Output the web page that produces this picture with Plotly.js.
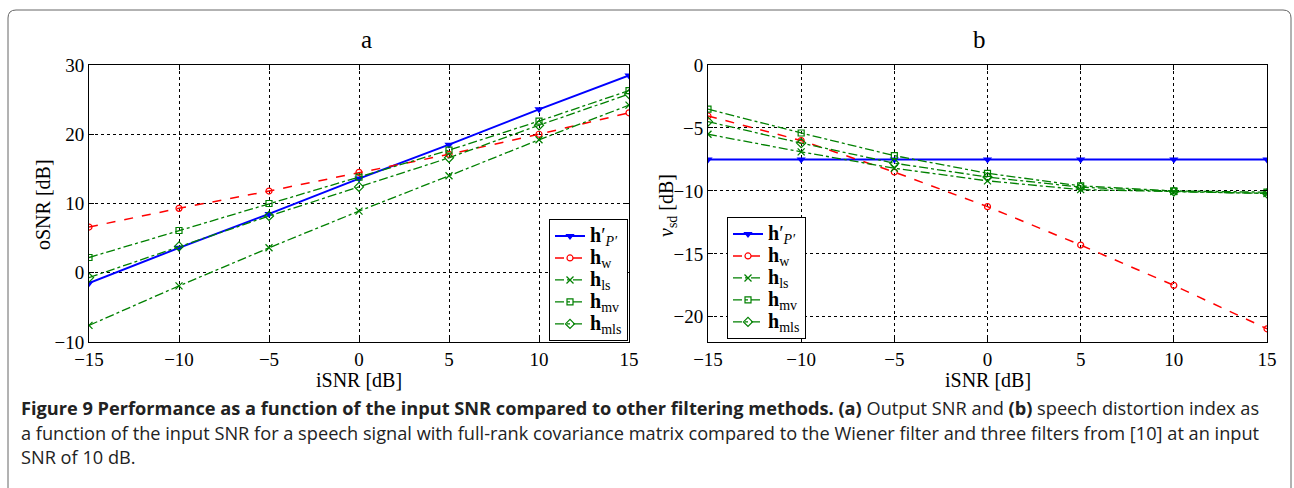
<!DOCTYPE html>
<html><head><meta charset="utf-8">
<script src="https://cdn.plot.ly/plotly-3.0.1.min.js"></script>
<style>html,body{margin:0;padding:0;background:#fff}#chart{width:1294px;height:488px}</style>
</head><body><div id="chart"></div>
<script>
const iSNR = [-15, -10, -5, 0, 5, 10, 15];
const names = ['<b>h</b>′<sub><i>P′</i></sub>', '<b>h</b><sub>w</sub>', '<b>h</b><sub>ls</sub>', '<b>h</b><sub>mv</sub>', '<b>h</b><sub>mls</sub>'];
// panel a: output SNR [dB]
const oSNR_hP  = [-1.5, 3.6, 8.5, 13.6, 18.5, 23.6, 28.5];
const oSNR_hw  = [6.6, 9.3, 11.8, 14.5, 17.1, 20.0, 23.1];
const oSNR_hls = [-7.6, -1.9, 3.6, 8.9, 14.0, 19.2, 24.2];
const oSNR_hmv = [2.2, 6.1, 10.0, 13.8, 17.7, 21.9, 26.3];
const oSNR_hmls= [-0.7, 3.8, 8.2, 12.4, 16.6, 21.3, 25.8];
// panel b: speech distortion index [dB]
const vsd_hP   = [-7.5, -7.5, -7.5, -7.5, -7.5, -7.5, -7.5];
const vsd_hw   = [-4.05, -6.0, -8.5, -11.25, -14.3, -17.5, -20.95];
const vsd_hls  = [-5.5, -6.9, -8.2, -9.2, -9.9, -10.05, -10.2];
const vsd_hmv  = [-3.5, -5.4, -7.2, -8.6, -9.6, -10.0, -10.1];
const vsd_hmls = [-4.5, -6.2, -7.8, -8.9, -9.7, -10.05, -10.2];
const captionLines = [
  '<b>Figure 9 Performance as a function of the input SNR compared to other filtering methods. (a)</b> Output SNR and <b>(b)</b> speech distortion index as',
  'a function of the input SNR for a speech signal with full-rank covariance matrix compared to the Wiener filter and three filters from [10] at an input',
  'SNR of 10 dB.'
];

const BLUE='#0000ff', RED='#ff0000', GREEN='#008000';
const styles = [
  {line:{color:BLUE,width:2,dash:'solid'}, marker:{symbol:'triangle-down',size:8,color:BLUE}},
  {line:{color:RED,width:1.5,dash:'dash'}, marker:{symbol:'circle-open',size:6,color:RED,line:{width:1.2}}},
  {line:{color:GREEN,width:1.3,dash:'dashdot'}, marker:{symbol:'x-thin-open',size:7,color:GREEN,line:{width:1.3,color:GREEN}}},
  {line:{color:GREEN,width:1.3,dash:'dashdot'}, marker:{symbol:'square-open',size:6,color:GREEN,line:{width:1.2}}},
  {line:{color:GREEN,width:1.3,dash:'dashdot'}, marker:{symbol:'diamond-open',size:7,color:GREEN,line:{width:1.2}}}
];
const big = s => '<span style="font-size:20px">' + s + '</span>';
const A = [oSNR_hP, oSNR_hw, oSNR_hls, oSNR_hmv, oSNR_hmls];
const B = [vsd_hP, vsd_hw, vsd_hls, vsd_hmv, vsd_hmls];
const traces = [];
A.forEach((y,i)=>traces.push(Object.assign({x:iSNR,y:y,name:big(names[i]),mode:'lines+markers',xaxis:'x',yaxis:'y',legend:'legend'},styles[i])));
B.forEach((y,i)=>traces.push(Object.assign({x:iSNR,y:y,name:big(names[i]),mode:'lines+markers',xaxis:'x2',yaxis:'y2',legend:'legend2'},styles[i])));

const SERIF = 'Liberation Serif, Times New Roman, serif';
const ax = (dom, range, dtick, anchor) => ({
  domain: dom, range: range, dtick: dtick, anchor: anchor,
  showgrid: true, gridcolor: '#000', griddash: 'dot', gridwidth: 1,
  zeroline: false, showline: true, linecolor: '#000', linewidth: 1, mirror: 'ticks',
  ticks: 'inside', ticklen: 5, tickcolor: '#000', ticklabelstandoff: 0,
  tickfont: {family: SERIF, size: 19, color: '#000'},
  title: {text: ''}
});
const yd = [1-342/488, 1-65/488];
const P = (px, py) => ({x: px/1294, y: 1-py/488, xref: 'paper', yref: 'paper', showarrow: false});
const TF = {family: SERIF, size: 20, color: '#000'};
const ann = [
  Object.assign(P(359, 40), {text: 'a', yanchor: 'middle', font: {family: SERIF, size: 25, color: '#000'}}),
  Object.assign(P(988, 40), {text: 'b', yanchor: 'middle', font: {family: SERIF, size: 25, color: '#000'}}),
  Object.assign(P(359, 380), {text: 'iSNR [dB]', xanchor: 'center', yanchor: 'middle', font: TF}),
  Object.assign(P(988, 380), {text: 'iSNR [dB]', xanchor: 'center', yanchor: 'middle', font: TF}),
  Object.assign(P(43, 205), {text: 'oSNR [dB]', textangle: -90, xanchor: 'center', yanchor: 'middle', font: TF}),
  Object.assign(P(667, 206), {text: '<i>v</i><sub>sd</sub> [dB]', textangle: -90, xanchor: 'center', yanchor: 'middle', font: TF})
];
[408, 433, 457].forEach((py, i) => ann.push(Object.assign(P(19, py), {text: captionLines[i], xanchor: 'left', yanchor: 'middle', align: 'left',
  font: {family: 'Open Sans, sans-serif', size: 18.2, color: '#222'}})));
const legendBase = {bgcolor: '#fff', bordercolor: '#000', borderwidth: 1,
  font: {family: SERIF, size: 14.6, color: '#000'}, itemwidth: 30, tracegroupgap: 0};
const layout = {
  width: 1294, height: 488, margin: {l:0, r:0, t:0, b:0},
  paper_bgcolor: '#fff', plot_bgcolor: '#fff', showlegend: true,
  xaxis: ax([89/1294, 629/1294], [-15, 15], 5, 'y'),
  yaxis: ax(yd, [-10, 30], 10, 'x'),
  xaxis2: ax([708/1294, 1267/1294], [-15, 15], 5, 'y2'),
  yaxis2: ax(yd, [-22, 0], 5, 'x2'),
  legend: Object.assign({x: 628/1294, xanchor: 'right', y: (488-341)/488, yanchor: 'bottom'}, legendBase),
  legend2: Object.assign({x: 727/1294, xanchor: 'left', y: (488-339)/488, yanchor: 'bottom'}, legendBase),
  annotations: ann,
  shapes: [
    {type: 'path', xref: 'paper', yref: 'paper', line: {color: '#666', width: 1},
     path: (()=>{const W=1294,H=488,l=8,t=10,r=1291,b=500,rd=8;
       const X=v=>v/W, Y=v=>1-v/H;
       return `M ${X(l)},${Y(b)} L ${X(l)},${Y(t+rd)} Q ${X(l)},${Y(t)} ${X(l+rd)},${Y(t)} L ${X(r-rd)},${Y(t)} Q ${X(r)},${Y(t)} ${X(r)},${Y(t+rd)} L ${X(r)},${Y(b)}`;})()}
  ]
};
Plotly.newPlot('chart', traces, layout, {staticPlot: true, displayModeBar: false});
</script></body></html>
